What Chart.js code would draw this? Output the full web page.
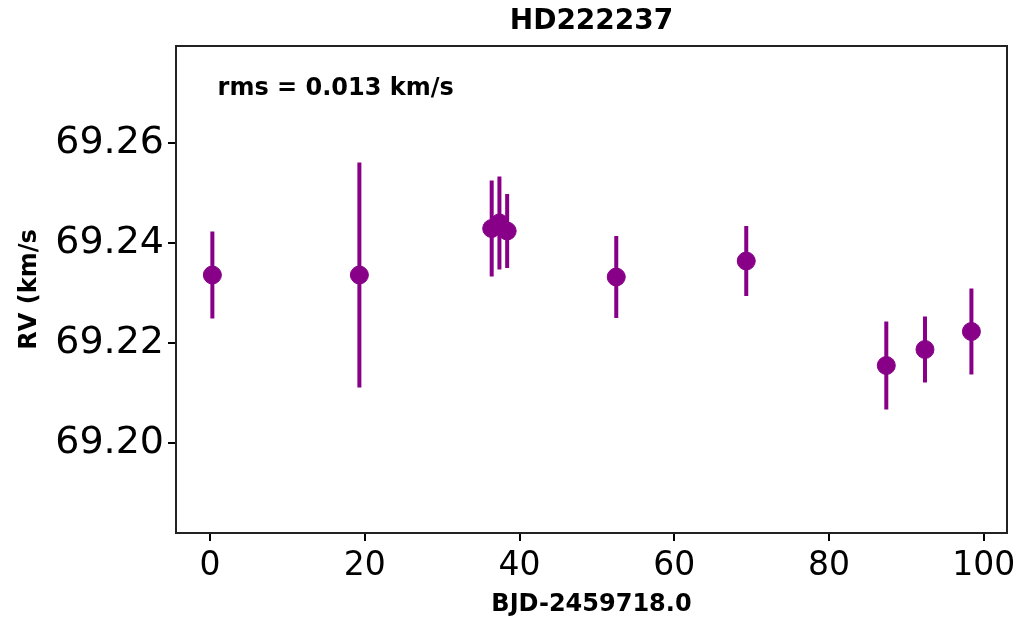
<!DOCTYPE html>
<html>
<head>
<meta charset="utf-8">
<script src="https://cdn.jsdelivr.net/npm/chart.js@4.4.1/dist/chart.umd.min.js"></script>
<style>
  html, body { margin: 0; padding: 0; background: #fff; }
  #wrap { width: 1035px; height: 620px; }
</style>
</head>
<body>
<div id="wrap"><canvas id="rvChart" width="1035" height="620"></canvas></div>
<script>
// dados
const bjd = [0.3, 19.3, 36.4, 37.4, 38.4, 52.5, 69.3, 87.4, 92.4, 98.4];
const rv = [69.2336, 69.2336, 69.2429, 69.2440, 69.2424, 69.2332, 69.2364, 69.2155, 69.2187, 69.2223];
const rvErr = [0.0087, 0.0225, 0.0096, 0.0093, 0.0074, 0.0082, 0.0070, 0.0088, 0.0066, 0.0086];
const xTicks = [0, 20, 40, 60, 80, 100];
const yTicks = [69.20, 69.22, 69.24, 69.26];

const titulo = 'HD222237';
const textoRms = 'rms = 0.013 km/s';
const cor = '#870087';

const pontos = bjd.map((x, i) => ({ x: x, y: rv[i] }));

// barras de erro desenhadas pelas escalas do grafico
const barrasErro = {
  id: 'barrasErro',
  beforeDatasetsDraw(chart) {
    const ctx = chart.ctx;
    const sx = chart.scales.x;
    const sy = chart.scales.y;
    ctx.save();
    ctx.strokeStyle = cor;
    ctx.lineWidth = 4;
    bjd.forEach((x, i) => {
      const px = sx.getPixelForValue(x);
      ctx.beginPath();
      ctx.moveTo(px, sy.getPixelForValue(rv[i] - rvErr[i]));
      ctx.lineTo(px, sy.getPixelForValue(rv[i] + rvErr[i]));
      ctx.stroke();
    });
    ctx.restore();
  }
};

// moldura, titulo centrado na area do grafico e texto do rms
const moldura = {
  id: 'moldura',
  afterDraw(chart) {
    const a = chart.chartArea;
    const ctx = chart.ctx;
    ctx.save();
    ctx.strokeStyle = '#222';
    ctx.lineWidth = 2;
    ctx.strokeRect(a.left, a.top, a.right - a.left, a.bottom - a.top);
    ctx.fillStyle = '#000';
    ctx.textBaseline = 'middle';
    ctx.textAlign = 'center';
    ctx.font = 'bold 28px "DejaVu Sans"';
    ctx.fillText(titulo, (a.left + a.right) / 2, 22);
    ctx.textAlign = 'left';
    ctx.font = 'bold 24px "DejaVu Sans"';
    ctx.fillText(textoRms, a.left + 0.05 * (a.right - a.left), a.top + 0.087 * (a.bottom - a.top));
    ctx.restore();
  }
};

new Chart(document.getElementById('rvChart').getContext('2d'), {
  type: 'scatter',
  data: {
    datasets: [{
      label: 'RV',
      data: pontos,
      backgroundColor: cor,
      borderColor: cor,
      pointRadius: 9,
      pointHoverRadius: 9
    }]
  },
  options: {
    responsive: false,
    animation: false,
    layout: { padding: { left: 0, right: 28, top: 46, bottom: 0 } },
    plugins: {
      legend: { display: false },
      tooltip: { enabled: false },
      title: { display: false }
    },
    scales: {
      x: {
        type: 'linear',
        min: -4.4,
        max: 103,
        afterBuildTicks: s => { s.ticks = xTicks.map(v => ({ value: v })); },
        afterFit: s => { s.height = 87; },
        grid: { drawOnChartArea: false, drawTicks: true, tickLength: 8, color: '#000', lineWidth: 2 },
        border: { display: false },
        ticks: {
          color: '#000',
          padding: 6,
          maxRotation: 0,
          font: { family: 'DejaVu Sans', size: 33 }
        },
        title: {
          display: true,
          text: 'BJD-2459718.0',
          color: '#000',
          font: { family: 'DejaVu Sans', size: 24, weight: 'bold' },
          padding: { top: 0, bottom: 1 }
        }
      },
      y: {
        type: 'linear',
        min: 69.1820,
        max: 69.2794,
        afterBuildTicks: s => { s.ticks = yTicks.map(v => ({ value: v })); },
        afterFit: s => { s.width = 176; },
        grid: { drawOnChartArea: false, drawTicks: true, tickLength: 8, color: '#000', lineWidth: 2 },
        border: { display: false },
        ticks: {
          color: '#000',
          padding: 4,
          font: { family: 'DejaVu Sans', size: 38 },
          callback: v => v.toFixed(2)
        },
        title: {
          display: true,
          text: 'RV (km/s',
          color: '#000',
          font: { family: 'DejaVu Sans', size: 24, weight: 'bold' },
          padding: { top: 15, bottom: 0 }
        }
      }
    }
  },
  plugins: [barrasErro, moldura]
});
</script>
</body>
</html>
